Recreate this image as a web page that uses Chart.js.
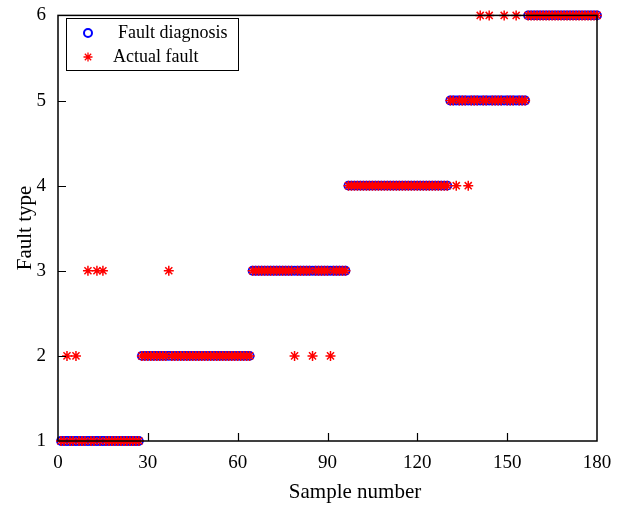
<!DOCTYPE html>
<html>
<head>
<meta charset="utf-8">
<script src="https://cdn.jsdelivr.net/npm/chart.js@4/dist/chart.umd.min.js"></script>
<style>
  html, body { margin: 0; padding: 0; background: #fff; }
  #wrap { width: 627px; height: 506px; }
</style>
</head>
<body>
<div id="wrap"><canvas id="faultChart" width="627" height="506"></canvas></div>
<script>
// x axis ticks and y axis ticks
const xTicks = [0, 30, 60, 90, 120, 150, 180];
const yTicks = [1, 2, 3, 4, 5, 6];

// diagnosis as runs: level, last sample of that run
const diagLevels = [1, 2, 3, 4, 5, 6];
const diagEnds = [27, 64, 96, 130, 156, 180];

// samples where actual fault differs from diagnosis
const missSamples = [3, 6, 10, 13, 15, 37, 79, 85, 91, 133, 137, 141, 144, 149, 153];
const missValues  = [2, 2, 3, 3, 3, 3, 2, 2, 2, 4, 4, 6, 6, 6, 6];

const diagnosis = [];
let start = 1;
diagLevels.forEach((lvl, i) => {
  for (let s = start; s <= diagEnds[i]; s++) diagnosis.push({ x: s, y: lvl });
  start = diagEnds[i] + 1;
});

const actual = diagnosis.map(p => {
  const k = missSamples.indexOf(p.x);
  return { x: p.x, y: k >= 0 ? missValues[k] : p.y };
});

const serif = '"Liberation Serif", "Times New Roman", serif';

// box frame, inward ticks, axis titles and legend
const framePlugin = {
  id: 'framePlugin',
  afterDraw(chart) {
    const { ctx, chartArea: a, scales } = chart;
    ctx.save();
    ctx.strokeStyle = '#000';
    ctx.lineWidth = 1.5;
    ctx.strokeRect(a.left, a.top, a.right - a.left, a.bottom - a.top);
    ctx.lineWidth = 1.2;
    ctx.beginPath();
    xTicks.slice(1, -1).forEach(v => {
      const px = Math.round(scales.x.getPixelForValue(v)) + 0.5;
      ctx.moveTo(px, a.bottom); ctx.lineTo(px, a.bottom - 8);
    });
    yTicks.slice(1, -1).forEach(v => {
      const py = Math.round(scales.y.getPixelForValue(v)) + 0.5;
      ctx.moveTo(a.left, py); ctx.lineTo(a.left + 8, py);
    });
    ctx.stroke();

    // axis titles
    ctx.fillStyle = '#000';
    ctx.font = '21px ' + serif;
    ctx.textAlign = 'center';
    ctx.textBaseline = 'middle';
    ctx.fillText('Sample number', 355, 492);
    ctx.save();
    ctx.translate(25, 228);
    ctx.rotate(-Math.PI / 2);
    ctx.fillText('Fault type', 0, 0);
    ctx.restore();

    // legend box
    ctx.fillStyle = '#fff';
    ctx.fillRect(66, 18, 172, 52);
    ctx.lineWidth = 1;
    ctx.strokeStyle = '#000';
    ctx.strokeRect(66.5, 18.5, 172, 52);
    ctx.strokeStyle = '#0000ff';
    ctx.lineWidth = 2;
    ctx.beginPath();
    ctx.arc(88, 33, 4, 0, Math.PI * 2);
    ctx.stroke();
    ctx.strokeStyle = '#ff0000';
    ctx.lineWidth = 1.3;
    ctx.beginPath();
    for (let k = 0; k < 4; k++) {
      const ang = k * Math.PI / 4;
      ctx.moveTo(88 - 4.5 * Math.cos(ang), 57 - 4.5 * Math.sin(ang));
      ctx.lineTo(88 + 4.5 * Math.cos(ang), 57 + 4.5 * Math.sin(ang));
    }
    ctx.stroke();
    ctx.fillStyle = '#000';
    ctx.font = '18px ' + serif;
    ctx.textAlign = 'left';
    ctx.fillText('Fault diagnosis', 118, 33);
    ctx.fillText('Actual fault', 113, 57);
    ctx.restore();
  }
};

const ctx = document.getElementById('faultChart').getContext('2d');
const faultChart = new Chart(ctx, {
  type: 'scatter',
  data: {
    datasets: [
      {
        label: 'Actual fault',
        data: actual,
        pointStyle: 'star',
        pointRadius: 5,
        borderColor: '#ff0000',
        backgroundColor: '#ff0000',
        borderWidth: 1.5,
        order: 1,
        clip: false
      },
      {
        label: 'Fault diagnosis',
        data: diagnosis,
        pointStyle: 'circle',
        pointRadius: 4,
        borderColor: '#0000ff',
        backgroundColor: 'rgba(0,0,0,0)',
        borderWidth: 1.8,
        order: 2,
        clip: false
      }
    ]
  },
  options: {
    responsive: false,
    animation: false,
    layout: { padding: { left: 0, right: 30, top: 15, bottom: 0 } },
    plugins: { legend: { display: false }, tooltip: { enabled: false } },
    scales: {
      x: {
        type: 'linear',
        min: 0,
        max: 180,
        afterBuildTicks: s => { s.ticks = xTicks.map(v => ({ value: v })); },
        afterFit: s => { s.height = 65; },
        grid: { display: false },
        border: { display: false },
        ticks: { color: '#000', padding: 3, font: { family: serif, size: 19 } }
      },
      y: {
        type: 'linear',
        min: 1,
        max: 6,
        afterBuildTicks: s => { s.ticks = yTicks.map(v => ({ value: v })); },
        afterFit: s => { s.width = 58; },
        grid: { display: false },
        border: { display: false },
        ticks: { color: '#000', padding: 4, font: { family: serif, size: 19 } }
      }
    }
  },
  plugins: [framePlugin]
});
</script>
</body>
</html>
